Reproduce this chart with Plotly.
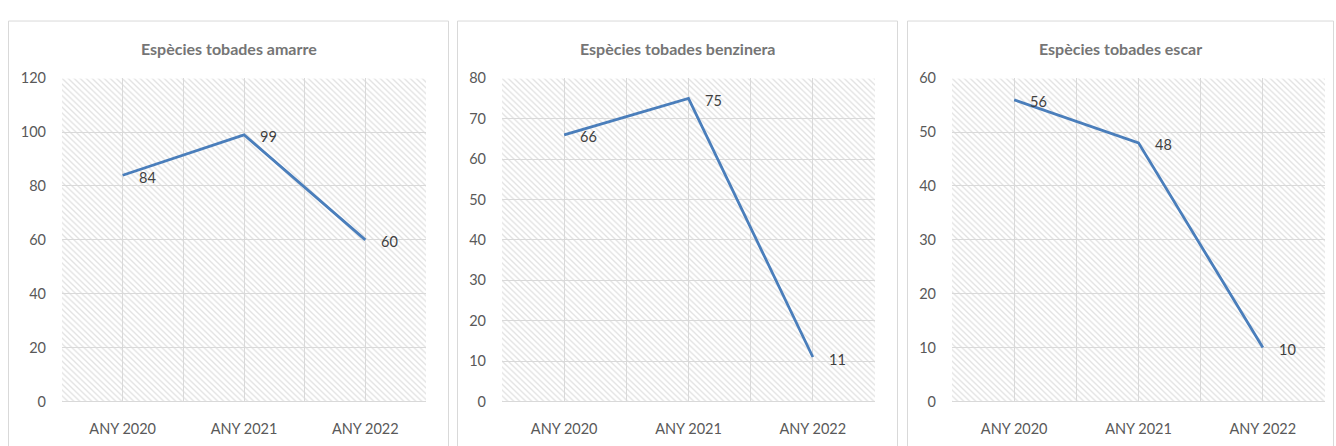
import base64
import plotly.graph_objects as go

# ---- data ----
categories = ["ANY 2020", "ANY 2021", "ANY 2022"]
titles = ["Espècies tobades amarre", "Espècies tobades benzinera", "Espècies tobades escar"]
values_amarre = [84, 99, 60]
values_benzinera = [66, 75, 11]
values_escar = [56, 48, 10]
y_max = [120, 80, 60]
y_step = [20, 10, 10]

series = [values_amarre, values_benzinera, values_escar]

W, H = 1336, 446
FONT = "Lato, 'Open Sans', sans-serif"
LINE_COLOR = "#4a7ebb"
GRID = "#d9d9d9"

plot_x = [(62, 426), (502, 875), (952, 1325)]
plot_y = (72, 408)
box_x = [(8.5, 448.5), (457.5, 897.5), (907.5, 1333.5)]
box_top = 12.5


def px(x):
    return x / W


def py(y):
    return 1 - y / H


def hatch_uri(w, h):
    svg = (
        f'<svg xmlns="http://www.w3.org/2000/svg" width="{w}" height="{h}">'
        '<defs><pattern id="p" patternUnits="userSpaceOnUse" width="6" height="6">'
        '<path d="M-1,-1 L7,7 M-1,5 L1,7 M5,-1 L7,1" stroke="#e3e3e3" stroke-width="1.4"/>'
        '</pattern></defs>'
        f'<rect width="{w}" height="{h}" fill="white"/>'
        f'<rect width="{w}" height="{h}" fill="url(#p)"/></svg>'
    )
    return "data:image/svg+xml;base64," + base64.b64encode(svg.encode()).decode()


fig = go.Figure()
xidx = list(range(len(categories)))
grid_vals = [i * 0.5 - 0.5 for i in range(2 * len(categories) + 1)]
grid_text = [categories[int(v)] if float(v).is_integer() else "" for v in grid_vals]

images, shapes, annotations = [], [], []
layout_axes = {}
for i, vals in enumerate(series):
    n = "" if i == 0 else str(i + 1)
    xa, ya = f"xaxis{n}", f"yaxis{n}"
    xr, yr = f"x{n}", f"y{n}"
    fig.add_trace(go.Scatter(
        x=xidx, y=vals, mode="lines", xaxis=xr, yaxis=yr,
        line=dict(color=LINE_COLOR, width=2.8), showlegend=False, hoverinfo="skip",
    ))
    x0, x1 = plot_x[i]
    layout_axes[xa] = dict(
        domain=[px(x0), px(x1)], anchor=yr, range=[-0.5, len(categories) - 0.5],
        tickmode="array", tickvals=grid_vals, ticktext=grid_text,
        showgrid=True, gridcolor=GRID, gridwidth=1, zeroline=False,
        showline=True, linecolor=GRID, linewidth=1, ticks="",
        ticklabelstandoff=14, tickfont=dict(family=FONT, size=14.5, color="#595959"),
        fixedrange=True,
    )
    layout_axes[ya] = dict(
        domain=[py(plot_y[1]), py(plot_y[0])], anchor=xr, range=[0, y_max[i]],
        dtick=y_step[i], tick0=0, showgrid=True, gridcolor=GRID, gridwidth=1,
        zeroline=False, showline=False, ticks="", ticklabelstandoff=15,
        tickfont=dict(family=FONT, size=14.5, color="#595959"), fixedrange=True,
    )
    images.append(dict(
        source=hatch_uri(x1 - x0, plot_y[1] - plot_y[0]), xref=xr, yref=yr,
        x=-0.5, y=y_max[i], sizex=len(categories), sizey=y_max[i],
        xanchor="left", yanchor="top", sizing="stretch", layer="below",
    ))
    bx0, bx1 = box_x[i]
    shapes.append(dict(
        type="rect", xref="paper", yref="paper",
        x0=px(bx0), x1=px(bx1), y0=-0.02, y1=py(box_top),
        line=dict(color="#d9d9d9", width=1), fillcolor="rgba(0,0,0,0)", layer="below",
    ))
    annotations.append(dict(
        text=f"<b>{titles[i]}</b>", xref="paper", yref="paper",
        x=px((bx0 + bx1) / 2), y=py(41), xanchor="center", yanchor="middle",
        showarrow=False, font=dict(family=FONT, size=16, color="#757575"),
    ))
    for xv, yv in zip(xidx, vals):
        annotations.append(dict(
            text=str(yv), xref=xr, yref=yr, x=xv, y=yv, xanchor="left",
            yanchor="middle", xshift=14, yshift=-2, showarrow=False,
            font=dict(family=FONT, size=14.5, color="#404040"),
        ))

fig.update_layout(
    width=W, height=H, margin=dict(l=0, r=0, t=0, b=0),
    paper_bgcolor="white", plot_bgcolor="rgba(0,0,0,0)",
    images=images, shapes=shapes, annotations=annotations,
    **layout_axes,
)

fig.write_html(
    "out.html",
    post_script="document.documentElement.style.margin='0';document.body.style.margin='0';document.body.style.padding='0';",
    config={"displayModeBar": False},
)
